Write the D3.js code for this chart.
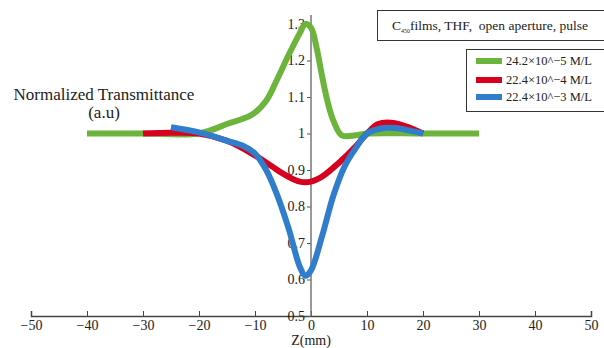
<!DOCTYPE html>
<html>
<head>
  <meta charset="utf-8">
  <script src="https://d3js.org/d3.v7.min.js"></script>
</head>
<style>
  body { margin: 0; background: #fff; }
  text { font-family: "Liberation Serif", "DejaVu Serif", serif; fill: #222; white-space: pre; }
</style>
<body>
  <svg width="604" height="348"></svg>
  <script>
    // Data
    const greenZ = [-40, -30, -20, -15, -10.5, -8, -6, -4, -2, -1, 0, 1, 2, 3, 4, 5.5, 8, 10, 20, 30];
    const greenT = [1.0, 1.0, 1.0, 1.026, 1.052, 1.09, 1.15, 1.215, 1.275, 1.3, 1.29, 1.235, 1.155, 1.085, 1.035, 0.995, 0.995, 1.0, 1.0, 1.0];

    const redZ = [-30, -25, -20, -15, -10, -7, -5, -2, 0, 2, 5, 8, 10, 12, 15, 20];
    const redT = [1.0, 1.002, 1.0, 0.98, 0.94, 0.91, 0.89, 0.868, 0.868, 0.882, 0.92, 0.965, 1.0, 1.026, 1.028, 1.0];

    const blueZ = [-25, -20, -15, -12, -10, -8, -6, -4, -2, -1, 0, 2, 4, 6, 8, 10, 13, 15, 20];
    const blueT = [1.017, 1.003, 0.98, 0.965, 0.945, 0.9, 0.83, 0.74, 0.635, 0.61, 0.625, 0.72, 0.83, 0.91, 0.96, 1.0, 1.015, 1.015, 1.0];

    const xTicks = [-50, -40, -30, -20, -10, 0, 10, 20, 30, 40, 50];
    const yTicks = [0.5, 0.6, 0.7, 0.8, 0.9, 1, 1.1, 1.2, 1.3];

    const seriesNames = ['24.2×10^−5 M/L', '22.4×10^−4 M/L', '22.4×10^−3 M/L'];
    const seriesColors = ['#6cb43c', '#d7001e', '#2f7dcb'];

    const svg = d3.select('svg');

    const x = d3.scaleLinear().domain([-50, 50]).range([31, 591]);
    const y = d3.scaleLinear().domain([0.5, 1.3]).range([316, 24]);

    // x axis, ticks pointing up
    const xg = svg.append('g')
      .attr('transform', `translate(0,${y(0.5)})`)
      .call(d3.axisBottom(x).tickValues(xTicks).tickSize(-5).tickPadding(4).tickFormat(d3.format('d')));
    xg.select('.domain').attr('stroke', '#444').attr('stroke-width', 1.5);
    xg.selectAll('.tick line').attr('stroke', '#444');
    xg.selectAll('text').style('font-size', '14px').attr('fill', '#222');

    // y axis through z = 0
    const yg = svg.append('g')
      .attr('transform', `translate(${x(0)},0)`)
      .call(d3.axisLeft(y).tickValues(yTicks).tickSize(4).tickPadding(2).tickFormat(d3.format('~g')));
    yg.select('.domain').remove();
    yg.append('line')
      .attr('y1', y(1.3) - 9).attr('y2', y(0.5))
      .attr('stroke', '#777').attr('stroke-width', 1.5);
    yg.selectAll('.tick line').attr('stroke', '#555');
    yg.selectAll('text').style('font-size', '14px').attr('fill', '#222');

    // curves
    const series = [
      {z: greenZ, t: greenT},
      {z: redZ, t: redT},
      {z: blueZ, t: blueT}
    ];
    const line = d3.line()
      .x(d => x(d[0]))
      .y(d => y(d[1]))
      .curve(d3.curveCatmullRom.alpha(0.5));

    series.forEach((s, i) => {
      svg.append('path')
        .datum(s.z.map((z, j) => [z, s.t[j]]))
        .attr('d', line)
        .attr('fill', 'none')
        .attr('stroke', seriesColors[i])
        .attr('stroke-width', 6)
        .attr('stroke-linejoin', 'round');
    });

    // y title
    svg.append('text')
      .attr('x', 104).attr('y', 100)
      .attr('text-anchor', 'middle')
      .style('font-size', '17px')
      .text('Normalized Transmittance');
    svg.append('text')
      .attr('x', 104).attr('y', 118)
      .attr('text-anchor', 'middle')
      .style('font-size', '17px')
      .text('(a.u)');

    // x title
    svg.append('text')
      .attr('x', x(0)).attr('y', 345)
      .attr('text-anchor', 'middle')
      .style('font-size', '14px')
      .text('Z(mm)');

    // caption box
    svg.append('rect')
      .attr('x', 377.5).attr('y', 10.5).attr('width', 230).attr('height', 30)
      .attr('fill', '#fff').attr('stroke', '#333');
    const cap = svg.append('text').attr('x', 392).attr('y', 30).style('font-size', '13.5px');
    cap.append('tspan').text('C');
    cap.append('tspan').attr('dy', 3).style('font-size', '6px').text('450');
    cap.append('tspan').attr('dy', -3).text('films, THF,  open aperture, pulse');

    // legend
    svg.append('rect')
      .attr('x', 466.5).attr('y', 49.5).attr('width', 140).attr('height', 62)
      .attr('fill', '#fff').attr('stroke', '#333');
    seriesNames.forEach((name, i) => {
      const ly = [61, 80, 97][i];
      svg.append('line')
        .attr('x1', 476).attr('x2', 502).attr('y1', ly).attr('y2', ly)
        .attr('stroke', seriesColors[i]).attr('stroke-width', 6);
      svg.append('text')
        .attr('x', 506).attr('y', ly + 4)
        .style('font-size', '12.5px')
        .text(name);
    });
  </script>
</body>
</html>
